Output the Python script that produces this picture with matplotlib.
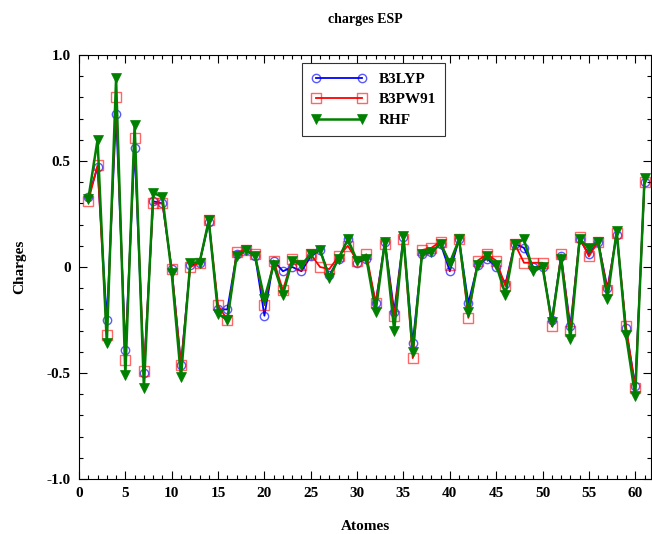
import matplotlib
matplotlib.use("Agg")
import matplotlib.pyplot as plt
from matplotlib.ticker import MultipleLocator

atoms = list(range(1, 62))
b3lyp = [0.33, 0.47, -0.25, 0.72, -0.39, 0.56, -0.50, 0.31, 0.30, -0.01,
         -0.46, 0.01, 0.02, 0.21, -0.20, -0.20, 0.06, 0.08, 0.05, -0.23,
         0.03, -0.02, 0.00, -0.02, 0.05, 0.08, -0.04, 0.04, 0.13, 0.02,
         0.04, -0.17, 0.12, -0.21, 0.14, -0.36, 0.06, 0.07, 0.11, -0.02,
         0.13, -0.17, 0.01, 0.04, 0.00, -0.08, 0.11, 0.09, 0.00, 0.00,
         -0.25, 0.05, -0.28, 0.13, 0.06, 0.12, -0.10, 0.15, -0.29, -0.56,
         0.40]
b3pw91 = [0.31, 0.48, -0.32, 0.80, -0.44, 0.61, -0.49, 0.30, 0.30, -0.01,
          -0.46, 0.00, 0.02, 0.22, -0.18, -0.25, 0.07, 0.08, 0.06, -0.18,
          0.03, -0.11, 0.04, 0.01, 0.06, 0.00, -0.01, 0.05, 0.10, 0.03,
          0.06, -0.17, 0.11, -0.23, 0.13, -0.43, 0.08, 0.09, 0.12, 0.01,
          0.13, -0.24, 0.03, 0.06, 0.03, -0.09, 0.11, 0.02, 0.02, 0.02,
          -0.28, 0.06, -0.30, 0.14, 0.05, 0.12, -0.11, 0.16, -0.28, -0.57,
          0.40]
rhf = [0.32, 0.60, -0.36, 0.89, -0.51, 0.67, -0.57, 0.35, 0.33, -0.03,
       -0.52, 0.02, 0.02, 0.22, -0.22, -0.25, 0.05, 0.08, 0.05, -0.15,
       0.01, -0.13, 0.03, 0.01, 0.06, 0.08, -0.05, 0.04, 0.13, 0.03,
       0.04, -0.21, 0.12, -0.30, 0.145, -0.40, 0.06, 0.07, 0.11, 0.02,
       0.13, -0.21, 0.01, 0.05, 0.01, -0.13, 0.11, 0.13, -0.02, 0.00,
       -0.26, 0.04, -0.34, 0.13, 0.09, 0.12, -0.15, 0.17, -0.32, -0.61,
       0.42]

serif = ["Liberation Serif", "DejaVu Serif"]
plt.rcParams["font.family"] = serif
plt.rcParams["font.weight"] = "bold"

fig = plt.figure(figsize=(6.52, 5.34), dpi=100)
ax = fig.add_axes([79/652, 55/534, 572/652, 424/534])

ax.plot(atoms, b3lyp, color="blue", lw=1.3, marker="o", ms=6,
        mfc="none", mec=(0, 0, 1, 0.65), mew=1.0, label="B3LYP")
ax.plot(atoms, b3pw91, color="red", lw=1.3, marker="s", ms=7,
        mfc="none", mec=(1, 0, 0, 0.6), mew=1.0, label="B3PW91")
ax.plot(atoms, rhf, color="green", lw=1.8, marker="v", ms=7.5,
        mfc="green", mec="green", mew=0.5, label="RHF")

ax.set_xlim(0, 61.7)
ax.set_ylim(-1.0, 1.0)
ax.xaxis.set_major_locator(MultipleLocator(5))
ax.xaxis.set_minor_locator(MultipleLocator(1))
ax.yaxis.set_minor_locator(MultipleLocator(0.1))
ax.set_yticks([-1.0, -0.5, 0, 0.5, 1.0])
ax.set_yticklabels(["-1.0", "-0.5", "0", "0.5", "1.0"])
ax.tick_params(which="both", direction="in", top=True, right=True, width=0.8)
ax.tick_params(which="major", length=6, labelsize=11, pad=6)
ax.tick_params(which="minor", length=3)
for lbl in ax.get_xticklabels() + ax.get_yticklabels():
    lbl.set_fontweight("bold")
for s in ax.spines.values():
    s.set_linewidth(0.8)

fig.text(365/652, 1 - 527/534, "Atomes", fontsize=11, fontweight="bold",
         ha="center", va="center")
fig.text(20/652, 1 - 267/534, "Charges", fontsize=11, fontweight="bold",
         ha="center", va="center", rotation=90)
fig.text(365/652, 1 - 20/534, "charges ESP", fontsize=10, fontweight="bold",
         ha="center", va="center")

leg = ax.legend(loc="upper left", bbox_to_anchor=(0.39, 0.981),
                borderaxespad=0, frameon=True, fancybox=False, shadow=False,
                prop={"family": serif, "weight": "bold", "size": 11},
                handlelength=3.6, numpoints=2,
                borderpad=0.6, labelspacing=0.45, handletextpad=0.8)
leg.get_frame().set_edgecolor("black")
leg.get_frame().set_linewidth(0.8)

fig.savefig("out.png", dpi=100)
